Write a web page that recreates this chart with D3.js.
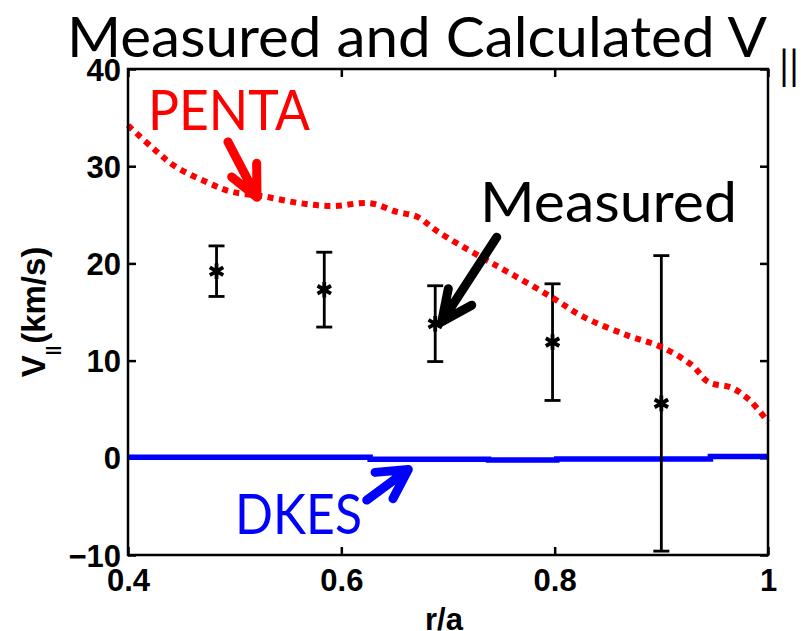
<!DOCTYPE html>
<html>
<head>
<meta charset="utf-8">
<script src="https://cdn.jsdelivr.net/npm/d3@7"></script>
<style>
  body { margin: 0; background: #fff; }
</style>
</head>
<body>
<div id="container"></div>
<script>
// measured points (r/a, V||, error)
const measR = [0.483, 0.584, 0.688, 0.798, 0.900];
const measV = [19.2, 17.3, 13.8, 11.9, 5.6];
const measErr = [2.6, 3.85, 3.9, 6.0, 15.2];

// PENTA calculation
const pentaR = [0.40, 0.425, 0.444, 0.475, 0.496, 0.527, 0.561, 0.592, 0.627, 0.652, 0.671,
                0.69, 0.73, 0.758, 0.796, 0.827, 0.868, 0.90, 0.929, 0.944, 0.966, 0.983, 1.0];
const pentaV = [34.2, 31.7, 30.0, 28.3, 27.4, 26.9, 26.2, 25.9, 26.2, 25.3, 24.8,
                23.3, 20.7, 19.0, 16.6, 14.5, 12.6, 11.4, 9.5, 7.8, 7.2, 5.9, 3.7];

// DKES calculation (stepped, ~0)
const dkesR = [0.40, 0.627, 0.738, 0.802, 0.946, 1.0];
const dkesV = [0.05, -0.15, -0.23, -0.12, 0.13, 0.13];

const xTicks = [0.4, 0.6, 0.8, 1];
const yTicks = [-10, 0, 10, 20, 30, 40];

const width = 805, height = 631;
const plot = { left: 128, right: 768, top: 69, bottom: 555 };

const svg = d3.select("#container").append("svg")
    .attr("width", width)
    .attr("height", height)
    .style("display", "block");

const x = d3.scaleLinear().domain([0.4, 1]).range([plot.left, plot.right]);
const y = d3.scaleLinear().domain([-10, 40]).range([plot.bottom, plot.top]);

const tickFont = "'Liberation Sans', Arial, sans-serif";

// axes with inside ticks
const bottomAxis = svg.append("g")
    .attr("transform", `translate(0,${plot.bottom})`)
    .call(d3.axisBottom(x).tickValues(xTicks).tickSize(-8).tickPadding(14).tickFormat(d => String(d)));
const leftAxis = svg.append("g")
    .attr("transform", `translate(${plot.left},0)`)
    .call(d3.axisLeft(y).tickValues(yTicks).tickSize(-8).tickPadding(7));
svg.append("g")
    .attr("transform", `translate(0,${plot.top})`)
    .call(d3.axisTop(x).tickValues(xTicks).tickSize(-8).tickFormat(""));
svg.append("g")
    .attr("transform", `translate(${plot.right},0)`)
    .call(d3.axisRight(y).tickValues(yTicks).tickSize(-8).tickFormat(""));

svg.selectAll(".domain").remove();
svg.selectAll(".tick line").attr("stroke", "#000").attr("stroke-width", 2.5);
[bottomAxis, leftAxis].forEach(g => {
    g.attr("font-family", null).attr("font-size", null);
    g.selectAll("text")
        .attr("fill", "#000")
        .style("font-family", tickFont)
        .style("font-weight", "bold")
        .style("font-size", "31px");
});
leftAxis.selectAll("text").attr("dy", "0.36em");

// DKES line
svg.append("path")
    .datum(dkesR.map((r, i) => [r, dkesV[i]]))
    .attr("fill", "none")
    .attr("stroke", "#0000ff")
    .attr("stroke-width", 5.5)
    .attr("d", d3.line().x(d => x(d[0])).y(d => y(d[1])).curve(d3.curveStepAfter));

// error bars
const meas = measR.map((r, i) => ({ r, v: measV[i], e: measErr[i] }));
const eb = svg.append("g").attr("stroke", "#000").attr("stroke-width", 2.8);
meas.forEach(d => {
    eb.append("line").attr("x1", x(d.r)).attr("x2", x(d.r)).attr("y1", y(d.v + d.e)).attr("y2", y(d.v - d.e));
    [d.v + d.e, d.v - d.e].forEach(v => {
        eb.append("line").attr("x1", x(d.r) - 8).attr("x2", x(d.r) + 8).attr("y1", y(v)).attr("y2", y(v));
    });
});

svg.append("g").selectAll("path")
    .data(meas)
  .enter().append("path")
    .attr("transform", d => `translate(${x(d.r)},${y(d.v)})`)
    .attr("d", d3.symbol(d3.symbolAsterisk, 170))
    .attr("fill", "none")
    .attr("stroke", "#000")
    .attr("stroke-width", 3.8);

// PENTA line
svg.append("path")
    .datum(pentaR.map((r, i) => [r, pentaV[i]]))
    .attr("fill", "none")
    .attr("stroke", "#ff0000")
    .attr("stroke-width", 6)
    .attr("stroke-dasharray", "6,5.5")
    .attr("d", d3.line().x(d => x(d[0])).y(d => y(d[1])).curve(d3.curveCatmullRom));

// frame
svg.append("rect")
    .attr("x", plot.left).attr("y", plot.top)
    .attr("width", plot.right - plot.left).attr("height", plot.bottom - plot.top)
    .attr("fill", "none").attr("stroke", "#000").attr("stroke-width", 2.5);

// annotations (in data units)
const labelFont = "Lato, 'Open Sans', sans-serif";
const notes = [
    { text: "PENTA", color: "#ff0000", r: 0.4188, v: 33.7, len: 162,
      arrow: [[0.4937, 32.5], [0.5209, 26.8], [0.5206, 30.3], [0.4972, 28.9]] },
    { text: "Measured", color: "#000", r: 0.730, v: 24.3, len: 257,
      arrow: [[0.7457, 22.7], [0.6941, 14.0], [0.7003, 17.4], [0.7222, 15.7]] },
    { text: "DKES", color: "#0000ff", r: 0.5003, v: -7.84, len: 127,
      arrow: [[0.6238, -4.35], [0.6628, -1.2], [0.6316, -1.5], [0.6484, -4.2]] }
];
notes.forEach(n => {
    svg.append("text")
        .attr("x", x(n.r)).attr("y", y(n.v))
        .attr("textLength", n.len).attr("lengthAdjust", "spacingAndGlyphs")
        .style("font-family", labelFont).style("font-size", "56px")
        .attr("fill", n.color)
        .text(n.text);
    const [s, t, h1, h2] = n.arrow.map(p => [x(p[0]), y(p[1])]);
    svg.append("path")
        .attr("d", `M${s}L${t}M${h1}L${t}L${h2}`)
        .attr("fill", "none")
        .attr("stroke", n.color)
        .attr("stroke-width", 9)
        .attr("stroke-linecap", "round")
        .attr("stroke-linejoin", "round");
});

// title
svg.append("text")
    .attr("x", 67).attr("y", 57)
    .attr("textLength", 700).attr("lengthAdjust", "spacingAndGlyphs")
    .style("font-family", labelFont).style("font-size", "56px")
    .attr("fill", "#000")
    .text("Measured and Calculated V");
svg.append("text")
    .attr("x", 779).attr("y", 80)
    .style("font-family", labelFont).style("font-size", "40px")
    .attr("fill", "#000")
    .text("||");

// axis labels
svg.append("text")
    .attr("x", (plot.left + plot.right) / 2 - 4).attr("y", 630)
    .attr("text-anchor", "middle")
    .style("font-family", tickFont).style("font-weight", "bold").style("font-size", "31px")
    .text("r/a");

const yl = svg.append("text")
    .attr("transform", `translate(45,${(plot.top + plot.bottom) / 2}) rotate(-90)`)
    .attr("text-anchor", "middle")
    .style("font-family", tickFont).style("font-weight", "bold").style("font-size", "33px");
yl.append("tspan").text("V");
yl.append("tspan").attr("dy", 13).style("font-size", "17px").text("||");
yl.append("tspan").attr("dy", -13).attr("dx", 2).text("(km/s)");
</script>
</body>
</html>
